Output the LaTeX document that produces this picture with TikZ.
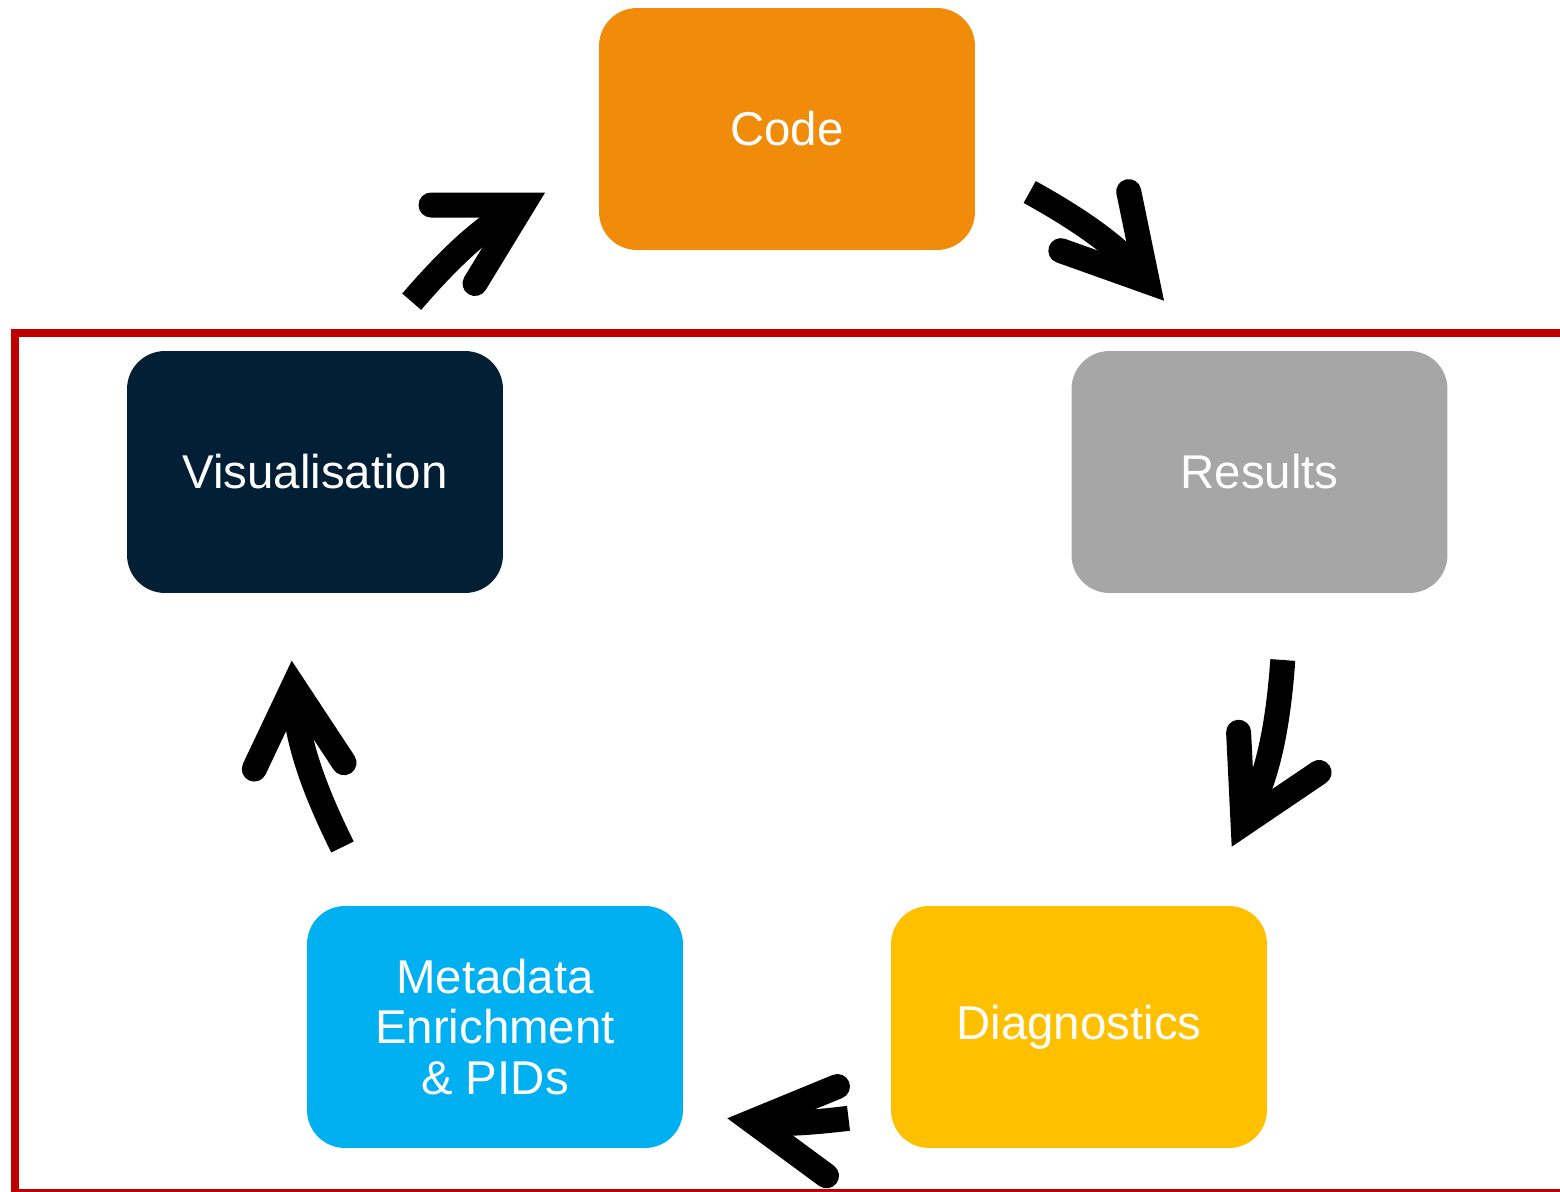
\documentclass[tikz,border=0pt]{standalone}
\usepackage{fontspec}
\setmainfont{Liberation Sans}
\usetikzlibrary{arrows.meta}
\definecolor{codeorange}{HTML}{F18C0A}
\definecolor{resgray}{HTML}{A6A6A6}
\definecolor{diagyellow}{HTML}{FFC000}
\definecolor{metacyan}{HTML}{00B0F0}
\definecolor{visnavy}{HTML}{031F35}
\definecolor{framered}{HTML}{C00000}
\begin{document}
\begin{tikzpicture}[x=0.02cm,y=0.02cm,
    box/.style={rounded corners=0.76cm,minimum width=7.52cm,minimum height=4.84cm,
      inner sep=0pt,text=white,align=center,font=\fontsize{27}{28.5}\selectfont},
    cyc/.style={draw,line width=0.5cm,line cap=butt,
      -{Straight Barb[length=1.6cm,width=1.8cm,line cap=round,line join=miter]}}]
  \useasboundingbox (0,0) rectangle (1560,-1192);
  \clip (0,0) rectangle (1560,-1192);
  \begin{scope}
    \draw[framered,line width=0.16cm] (15,-332.8) rectangle (1600,-1193);

    \node[box,fill=codeorange] (code) at (787,-129) {Code};
    \node[box,fill=resgray] (res) at (1259.5,-472) {Results};
    \node[box,fill=diagyellow] (diag) at (1079,-1027) {Diagnostics};
    \node[box,fill=metacyan] (meta) at (495,-1027) {Metadata\\Enrichment\\\& PIDs};
    \node[box,fill=visnavy] (vis) at (315,-472) {Visualisation};

    \coordinate (a1) at (411.7,-301.7);
    \coordinate (a2) at (545,-192.7);
    \coordinate (b1) at (1029.7,-192);
    \coordinate (b2) at (1164,-300.7);
    \coordinate (c1) at (1282.8,-660);
    \coordinate (c2) at (1231.7,-846.7);
    \coordinate (d1) at (848.5,-1118.3);
    \coordinate (d2) at (727.3,-1118.3);
    \coordinate (e1) at (342.5,-847);
    \coordinate (e2) at (291.7,-660.7);

    \path[cyc] (a1) to[bend left=10] (a2);
    \path[cyc] (b1) to[bend left=10] (b2);
    \path[cyc] (c1) to[bend left=11.25] (c2);
    \path[cyc] (d1) to[bend left=7] (d2);
    \path[cyc] (e1) to[bend left=11.2] (e2);
  \end{scope}
\end{tikzpicture}
\end{document}
